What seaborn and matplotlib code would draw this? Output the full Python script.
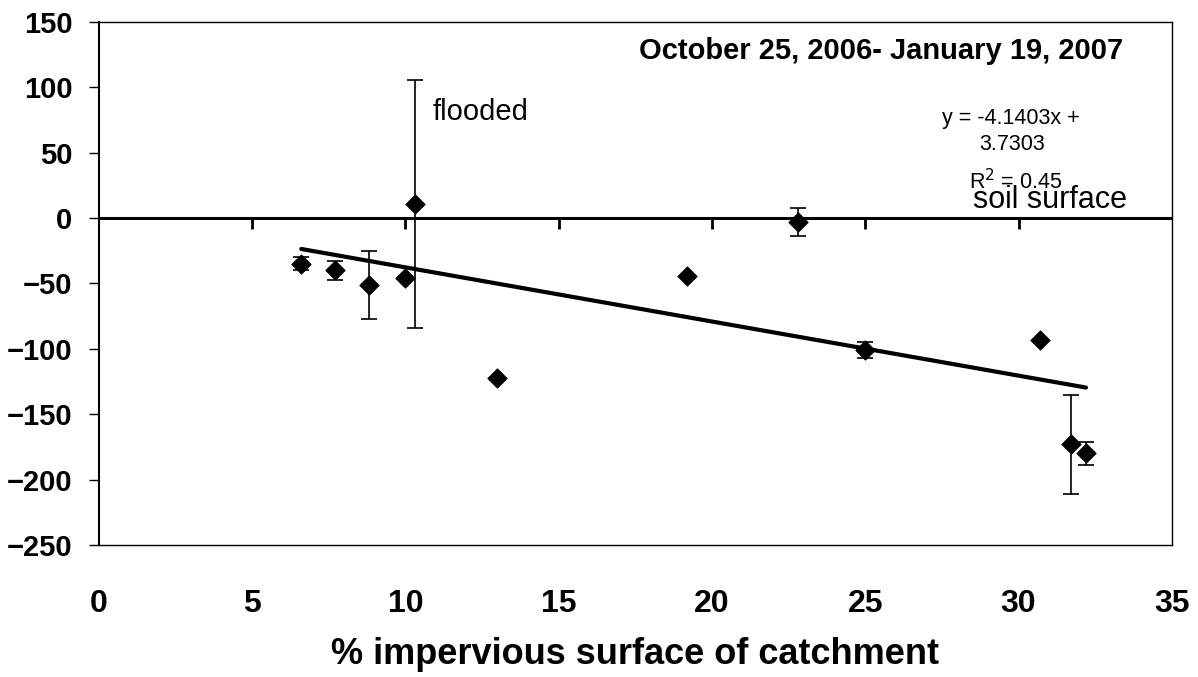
import numpy as np
import pandas as pd
import matplotlib
matplotlib.use("Agg")
from matplotlib import pyplot as plt
import seaborn as sns

# % impervious surface vs. water level
impervious = [6.6, 7.7, 8.8, 10.0, 10.3, 13.0, 19.2, 22.8, 25.0, 30.7, 31.7, 32.2]
level = [-35, -40, -51, -46, 11, -122, -44, -3, -101, -93, -173, -180]
level_err = [5, 7, 26, 0, 95, 0, 0, 11, 6, 0, 38, 9]

slope = -4.1403
intercept = 3.7303

x_ticks = [0, 5, 10, 15, 20, 25, 30, 35]
y_ticks = [-250, -200, -150, -100, -50, 0, 50, 100, 150]

df = pd.DataFrame({"x": impervious, "y": level, "err": level_err})

sns.set_style("white")
plt.rcParams["font.family"] = ["Liberation Sans", "DejaVu Sans"]
plt.rcParams["axes.unicode_minus"] = True
plt.rcParams["text.color"] = "black"
plt.rcParams["xtick.color"] = "black"
plt.rcParams["ytick.color"] = "black"
plt.rcParams["axes.labelcolor"] = "black"

fig = plt.figure(figsize=(11.98, 6.77), dpi=100)
ax = fig.add_axes([0.0826, 0.195, 0.8955, 0.7725])

# trend line from the fitted equation
trend_x = np.array([min(impervious), max(impervious)])
sns.lineplot(x=trend_x, y=slope * trend_x + intercept, ax=ax, color="black", linewidth=3)

ax.errorbar(df["x"], df["y"], yerr=df["err"], fmt="none", ecolor="black",
            elinewidth=1.2, capsize=5.5, capthick=1.2, zorder=3)
sns.scatterplot(data=df, x="x", y="y", marker="D", s=95, color="black",
                edgecolor="black", ax=ax, zorder=4)

ax.axhline(0, color="black", linewidth=2.2, zorder=2)

ax.set_xlim(0, 35)
ax.set_ylim(-250, 150)
ax.set_xticks(x_ticks)
ax.set_yticks(y_ticks)
for s in ax.spines.values():
    s.set_color("black")
    s.set_linewidth(1.0)
ax.spines["left"].set_linewidth(1.5)

ax.tick_params(axis="y", direction="out", length=7, width=1, left=True,
               labelsize=21, pad=12)
ax.tick_params(axis="x", length=0, labelsize=23, pad=32)
for lab in ax.get_xticklabels() + ax.get_yticklabels():
    lab.set_fontweight("bold")

# x axis drawn through zero with downward ticks
zero_ax = ax.secondary_xaxis(250 / 400)
zero_ax.set_xticks(x_ticks[1:-1])
zero_ax.tick_params(direction="out", length=8, width=2, labelbottom=False,
                    labeltop=False, bottom=True, top=False)
zero_ax.xaxis.set_ticks_position("bottom")
zero_ax.spines["bottom"].set_linewidth(2.2)
zero_ax.spines["bottom"].set_color("black")
zero_ax.set_xticklabels([])

ax.set_xlabel("% impervious surface of catchment", fontsize=26, fontweight="bold",
              labelpad=13)
ax.set_ylabel("")

ax.text(33.4, 128, "October 25, 2006- January 19, 2007", ha="right", va="center",
        fontsize=21, fontweight="bold")
ax.text(10.9, 81, "flooded", ha="left", va="center", fontsize=21)
ax.text(27.5, 76, "y = -4.1403x +", ha="left", va="center", fontsize=15.5)
ax.text(29.8, 56, "3.7303", ha="center", va="center", fontsize=15.5)
ax.text(28.5, 14, "soil surface", ha="left", va="center", fontsize=22)
ax.text(28.4, 28, "R$^2$ = 0.45", ha="left", va="center", fontsize=15.5)

fig.savefig("out.png", dpi=100)
